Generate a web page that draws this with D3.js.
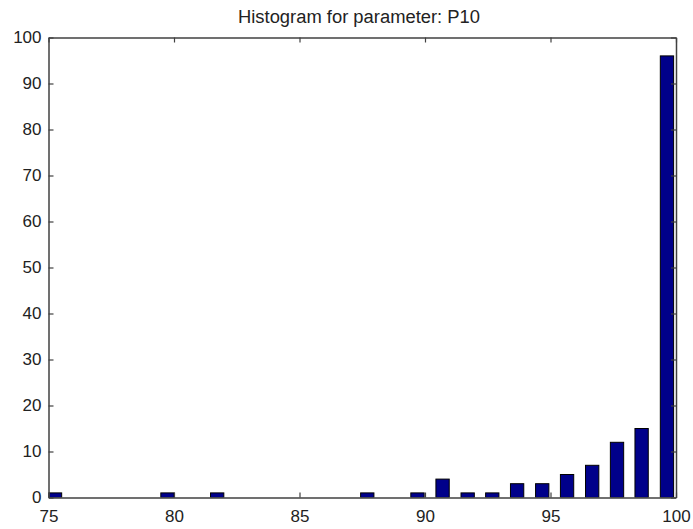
<!DOCTYPE html>
<html>
<head>
<meta charset="utf-8">
<script src="https://cdn.jsdelivr.net/npm/d3@7"></script>
<style>
  html, body { margin: 0; padding: 0; background: #fff; }
  svg { display: block; }
  text { font-family: "Liberation Sans", Arial, sans-serif; fill: #222; }
</style>
</head>
<body>
<div id="chart"></div>
<script>
// Data
const titleText = "Histogram for parameter: P10";
const binCenters = [75.26, 79.74, 81.72, 87.7, 89.7, 90.7, 91.7, 92.68, 93.67, 94.67, 95.66, 96.66, 97.65, 98.63, 99.64];
const binCounts  = [1, 1, 1, 1, 1, 4, 1, 1, 3, 3, 5, 7, 12, 15, 96];
const xTicks = [75, 80, 85, 90, 95, 100];
const yTicks = [0, 10, 20, 30, 40, 50, 60, 70, 80, 90, 100];
const binWidth = 0.53;

const W = 693, H = 529;
const m = { left: 48.5, right: 693 - 676, top: 37.5, bottom: 529 - 497.5 };

const svg = d3.select("#chart").append("svg").attr("width", W).attr("height", H);

const x = d3.scaleLinear().domain([75, 100]).range([m.left, W - m.right]);
const y = d3.scaleLinear().domain([0, 100]).range([H - m.bottom, m.top]);

svg.append("defs").append("clipPath").attr("id", "clip")
  .append("rect").attr("x", m.left).attr("y", m.top)
  .attr("width", W - m.left - m.right).attr("height", H - m.top - m.bottom);

const data = binCenters.map((c, i) => ({ c, n: binCounts[i] }));

svg.append("g").attr("clip-path", "url(#clip)")
  .selectAll("rect").data(data).enter().append("rect")
  .attr("x", d => x(d.c - binWidth / 2))
  .attr("width", d => x(d.c + binWidth / 2) - x(d.c - binWidth / 2))
  .attr("y", d => y(d.n))
  .attr("height", d => y(0) - y(d.n))
  .attr("fill", "#00008a")
  .attr("stroke", "#000")
  .attr("stroke-width", 1);

const axisColor = "#404040";
const tickLen = 5;

// Axes with inward ticks
const gB = svg.append("g").attr("transform", `translate(0,${y(0)})`)
  .call(d3.axisBottom(x).tickValues(xTicks).tickSizeInner(-tickLen).tickSizeOuter(0));
const gT = svg.append("g").attr("transform", `translate(0,${y(100)})`)
  .call(d3.axisTop(x).tickValues(xTicks).tickSizeInner(-tickLen).tickSizeOuter(0).tickFormat(""));
const gL = svg.append("g").attr("transform", `translate(${x(75)},0)`)
  .call(d3.axisLeft(y).tickValues(yTicks).tickSizeInner(-tickLen).tickSizeOuter(0).tickPadding(7));
const gR = svg.append("g").attr("transform", `translate(${x(100)},0)`)
  .call(d3.axisRight(y).tickValues(yTicks).tickSizeInner(-tickLen).tickSizeOuter(0).tickFormat(""));

[gB, gT, gL, gR].forEach(g => {
  g.select(".domain").attr("stroke", axisColor).attr("stroke-width", 1.5);
  g.selectAll(".tick line").attr("stroke", axisColor).attr("stroke-width", 1.2);
  g.selectAll(".tick text").attr("font-size", 17)
    .attr("font-family", "'Liberation Sans', Arial, sans-serif").attr("fill", "#222");
});
gB.selectAll(".tick text").attr("y", 24).attr("dy", 0);

svg.append("text")
  .attr("x", 359)
  .attr("y", 22.5)
  .attr("text-anchor", "middle")
  .attr("font-size", 18)
  .attr("textLength", 242)
  .attr("lengthAdjust", "spacingAndGlyphs")
  .text(titleText);
</script>
</body>
</html>
